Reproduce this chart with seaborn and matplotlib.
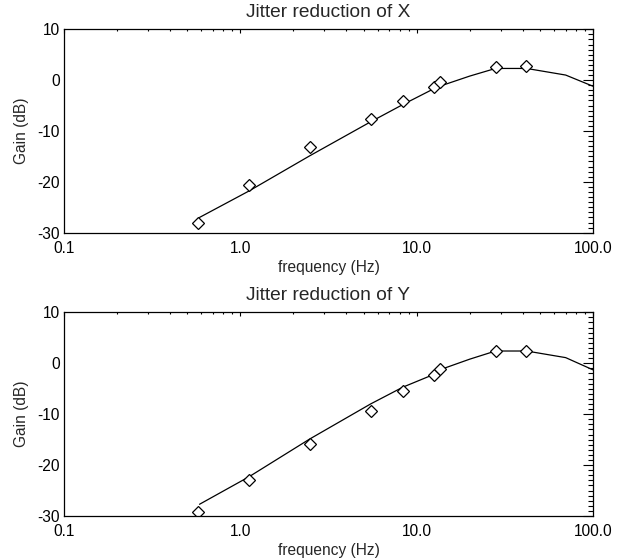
import numpy as np
import pandas as pd
import matplotlib
matplotlib.use("Agg")
import matplotlib.pyplot as plt
from matplotlib.ticker import FixedLocator, MultipleLocator, LogLocator, NullFormatter
import seaborn as sns

# measured points (diamonds)
freq_pts = [0.573, 1.12, 2.47, 5.48, 8.35, 12.5, 13.5, 28.0, 41.9]
gain_x = [-28.1, -20.7, -13.2, -7.7, -4.2, -1.4, -0.3, 2.5, 2.8]
gain_y = [-29.3, -23.0, -15.9, -9.4, -5.5, -2.4, -1.1, 2.5, 2.5]

# model curve
freq_model = [0.587, 1.12, 2.47, 5.48, 8.35, 12.5, 13.5, 20.0, 28.0, 42.0, 70.0, 100.0]
model_x = [-27.0, -21.8, -14.9, -8.2, -4.8, -1.7, -1.2, 0.8, 2.3, 2.3, 1.0, -1.2]
model_y = [-27.7, -22.3, -14.9, -8.0, -4.7, -2.2, -1.3, 0.8, 2.4, 2.4, 1.1, -1.3]

titles = ["Jitter reduction of X", "Jitter reduction of Y"]
xtick_vals = [0.1, 1.0, 10.0, 100.0]
xtick_labels = ["0.1", "1.0", "10.0", "100.0"]

sns.set_style("white")
plt.rcParams["font.family"] = ["Liberation Sans", "DejaVu Sans"]
plt.rcParams["axes.unicode_minus"] = False

fig = plt.figure(figsize=(6.17, 5.58), dpi=100)
ax_top = fig.add_axes([0.1037, 0.5830, 0.8574, 0.3645])
ax_bot = fig.add_axes([0.1037, 0.0753, 0.8574, 0.3650])

panels = [
    (ax_top, gain_x, model_x, titles[0]),
    (ax_bot, gain_y, model_y, titles[1]),
]

for ax, pts, model, title in panels:
    df_model = pd.DataFrame({"freq": freq_model, "gain": model})
    df_pts = pd.DataFrame({"freq": freq_pts, "gain": pts})

    sns.lineplot(data=df_model, x="freq", y="gain", ax=ax,
                 color="black", linewidth=0.9, sort=False)
    ax.plot(df_pts["freq"], df_pts["gain"], linestyle="none", marker="D",
            markersize=6, markerfacecolor="white", markeredgecolor="black",
            markeredgewidth=0.9)

    ax.set_xscale("log")
    ax.set_xlim(0.1, 100)
    ax.set_ylim(-30, 10)

    ax.xaxis.set_major_locator(FixedLocator(xtick_vals))
    ax.set_xticklabels(xtick_labels)
    ax.xaxis.set_minor_locator(LogLocator(base=10, subs=np.arange(2, 10)))
    ax.xaxis.set_minor_formatter(NullFormatter())
    ax.yaxis.set_major_locator(MultipleLocator(10))
    ax.yaxis.set_minor_locator(MultipleLocator(1))

    ax.tick_params(axis="both", which="both", direction="in",
                   top=True, right=True, colors="black", labelsize=11.2)
    ax.tick_params(axis="x", which="major", length=3, width=0.8, pad=6)
    ax.tick_params(axis="x", which="minor", length=1.6, width=0.8)
    ax.tick_params(axis="y", which="major", length=7, width=0.8, pad=3)
    ax.tick_params(axis="y", which="minor", length=3.5, width=0.8)

    for sp in ax.spines.values():
        sp.set_color("black")
        sp.set_linewidth(0.9)

    ax.set_title(title, fontsize=13.8, pad=9)
    ax.set_xlabel("frequency (Hz)", fontsize=11.2, labelpad=3)
    ax.set_ylabel("Gain (dB)", fontsize=11.2, labelpad=6)

fig.savefig("out.png", dpi=100, facecolor="white")
